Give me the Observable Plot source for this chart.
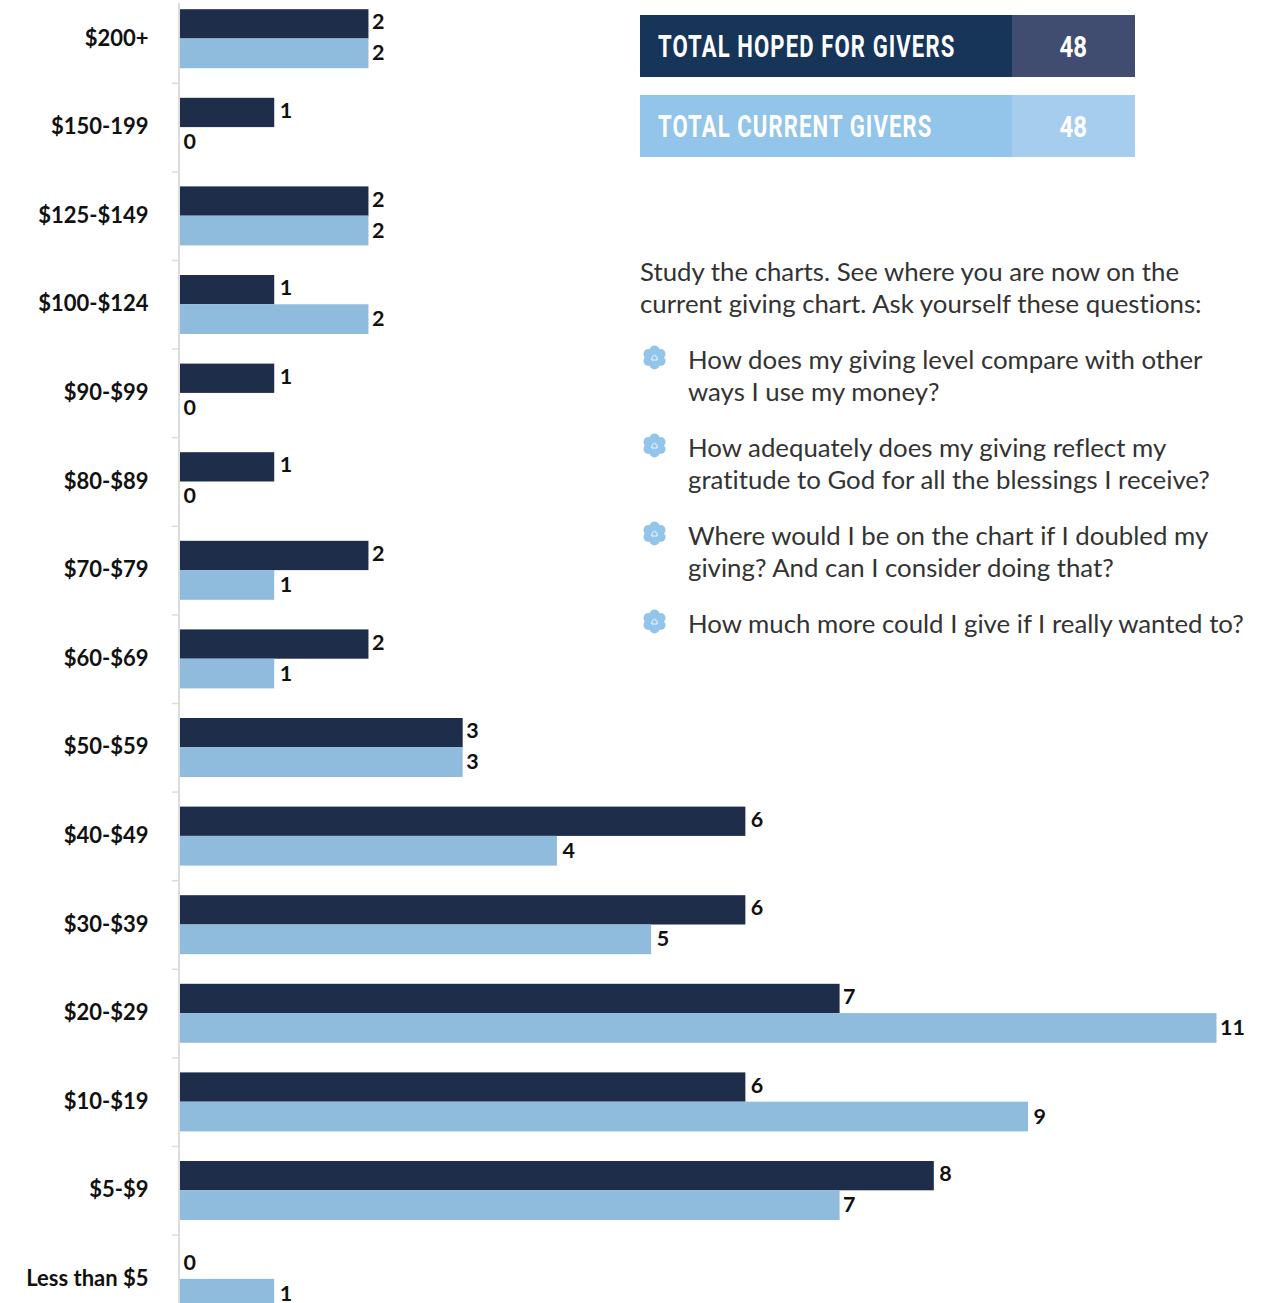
<!DOCTYPE html>
<html>
<head>
<meta charset="utf-8">
<script src="https://cdn.jsdelivr.net/npm/d3@7"></script>
<script src="https://cdn.jsdelivr.net/npm/@observablehq/plot@0.6"></script>
<style>
html,body{margin:0;padding:0;background:#fff}
#wrap{position:relative;width:1266px;height:1303px;overflow:hidden}
#wrap svg.plot{position:absolute;left:0;top:0}
.box{position:absolute;left:640px;width:495px;height:62px;color:#fff;font-family:Roboto,sans-serif;font-weight:700}
.box .lab{position:absolute;left:0;top:0;width:372px;height:62px;line-height:62px;font-size:32px;white-space:nowrap;overflow:hidden}
.box .lab span{display:inline-block;margin-left:18px;transform-origin:left center;transform:scaleX(.69);letter-spacing:1.6px}
.box .num{position:absolute;left:372px;top:0;width:123px;height:62px;line-height:64px;font-size:30px;text-align:center}
.box .num span{display:inline-block;transform:scaleX(.8)}
.copy{position:absolute;font-family:Lato,sans-serif;font-size:25.8px;line-height:32px;color:#333;white-space:nowrap;font-variant-ligatures:none}
.flower{position:absolute;left:642px;width:25px;height:25px}
</style>
</head>
<body>
<div id="wrap"></div>
<script>
const categories = ["$200+","$150-199","$125-$149","$100-$124","$90-$99","$80-$89","$70-$79","$60-$69","$50-$59","$40-$49","$30-$39","$20-$29","$10-$19","$5-$9","Less than $5"];
const hoped = [2,1,2,1,1,1,2,2,3,6,6,7,6,8,0];
const current = [2,0,2,2,0,0,1,1,3,4,5,11,9,7,1];
const tightValues = [0,2,3,7,11];
const summary = [["TOTAL HOPED FOR GIVERS","48"],["TOTAL CURRENT GIVERS","48"]];
const intro = ["Study the charts. See where you are now on the","current giving chart. Ask yourself these questions:"];
const questions = [
  ["How does my giving level compare with other","ways I use my money?"],
  ["How adequately does my giving reflect my","gratitude to God for all the blessings I receive?"],
  ["Where would I be on the chart if I doubled my","giving? And can I consider doing that?"],
  ["How much more could I give if I really wanted to?"]
];

const hopedRows = categories.map((c,i)=>({cat:c,value:hoped[i]}));
const currentRows = categories.map((c,i)=>({cat:c,value:current[i]}));
const font = "Lato, sans-serif";
const textOpts = {x:"value",y:"cat",text:d=>String(d.value),textAnchor:"start",fontSize:21.5,fontWeight:700,fontFamily:font,fill:"#111"};
const tight = d=>tightValues.includes(d.value);
const loose = d=>!tightValues.includes(d.value);

const chart = Plot.plot({
  width:1266,height:1303,marginLeft:0,marginRight:0,marginTop:3,marginBottom:0,
  x:{domain:[0,11],range:[180,1216.5],axis:null},
  y:{type:"band",domain:categories,range:[-5.8,1323.2],padding:0,round:false,axis:null,label:null},
  style:{background:"transparent",overflow:"hidden"},
  marks:[
    Plot.ruleX([0],{dx:-1.5,stroke:"#dcdcdc",strokeWidth:2}),
    Plot.axisY({anchor:"left",tickSize:6,text:null,label:null,x:0,dx:-2,dy:-44.3,stroke:"#dcdcdc",strokeWidth:1.5,strokeOpacity:1,filter:d=>d!==categories[0]}),
    Plot.axisY({anchor:"left",tickSize:0,tickPadding:0,x:0,dx:-32,dy:-0.5,fontSize:22,fontWeight:700,fontFamily:font,fill:"#111",label:null,lineWidth:30}),
    Plot.barX(hopedRows,{x:"value",y:"cat",fill:"#1e2d49",insetTop:15,insetBottom:44.3}),
    Plot.barX(currentRows,{x:"value",y:"cat",fill:"#8fbbdc",insetTop:44.3,insetBottom:14.6}),
    Plot.text(hopedRows,{...textOpts,filter:tight,dx:3,dy:-16.5}),
    Plot.text(hopedRows,{...textOpts,filter:loose,dx:5,dy:-16.5}),
    Plot.text(currentRows,{...textOpts,filter:tight,dx:3,dy:14.5}),
    Plot.text(currentRows,{...textOpts,filter:loose,dx:5,dy:14.5})
  ]
});
const wrap = document.getElementById("wrap");
wrap.appendChild(chart);

const boxColors = [["#163558","#414d70",15],["#93c4e9","#a7cdee",95]];
summary.forEach(([lab,num],i)=>{
  const b=document.createElement("div");b.className="box";b.style.top=boxColors[i][2]+"px";
  b.innerHTML=`<div class="lab" style="background:${boxColors[i][0]}"><span>${lab}</span></div><div class="num" style="background:${boxColors[i][1]}"><span>${num}</span></div>`;
  wrap.appendChild(b);
});
function addCopy(text,left,top){const d=document.createElement("div");d.className="copy";d.style.left=left+"px";d.style.top=top+"px";d.textContent=text;wrap.appendChild(d);}
intro.forEach((t,i)=>addCopy(t,640,255+i*32));
const petals=[0,60,120,180,240,300].map(a=>{const r=a*Math.PI/180;return `<circle cx="${12.5+7*Math.sin(r)}" cy="${12.5-7*Math.cos(r)}" r="5" fill="#93c4e9"/>`}).join("");
const flowerSvg=`<circle cx="12.5" cy="12.5" r="8" fill="#93c4e9"/>${petals}<path d="M9.8 12.4 L12.5 10 L15.2 12.4 V15 H9.8 Z" fill="none" stroke="#fff" stroke-width=".9"/>`;
questions.forEach((q,i)=>{
  const top=343+i*88;
  q.forEach((t,j)=>addCopy(t,688,top+j*32));
  const f=document.createElementNS("http://www.w3.org/2000/svg","svg");
  f.setAttribute("class","flower");f.setAttribute("viewBox","0 0 25 25");f.style.top=(top+2)+"px";f.innerHTML=flowerSvg;wrap.appendChild(f);
});
</script>
</body>
</html>
